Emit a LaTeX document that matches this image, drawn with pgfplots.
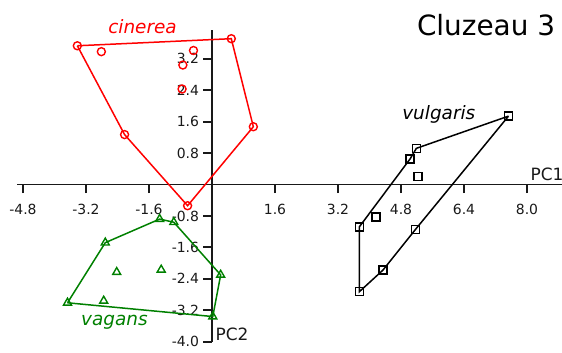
\documentclass[border=0pt]{standalone}
\usepackage{pgfplots}
\pgfplotsset{compat=1.18}
\usepackage{fontspec}
\setmainfont{DejaVu Sans}
\definecolor{cinred}{RGB}{255,0,0}
\definecolor{vaggreen}{RGB}{0,128,0}
\definecolor{axisgray}{RGB}{25,25,25}
% tick label text size
\newcommand\tl[1]{{\fontsize{14}{16}\selectfont #1}}

\begin{document}
\begin{tikzpicture}
\begin{axis}[
  at={(0,0)}, anchor=origin,
  x=39.375bp, y=39.3bp,
  axis lines=middle,
  axis line style={-, line width=1.8bp, axisgray},
  xmin=-4.95, xmax=8.89, ymin=-4.0, ymax=3.93,
  xtick={-4.8,-3.2,-1.6,1.6,3.2,4.8,6.4,8.0},
  xticklabels={\tl{-4.8},\tl{-3.2},\tl{-1.6},\tl{1.6},\tl{3.2},\tl{4.8},\tl{6.4},\tl{8.0}},
  ytick={-4.0,-3.2,-2.4,-1.6,-0.8,0.8,1.6,2.4,3.2},
  yticklabels={\tl{-4.0},\tl{-3.2},\tl{-2.4},\tl{-1.6},\tl{-0.8},\tl{0.8},\tl{1.6},\tl{2.4},\tl{3.2}},
  tick align=outside,
  major tick length=8.5bp,
  tick style={line width=1.8bp, axisgray},
  tick label style={text=axisgray},
  xticklabel style={yshift=-8bp},
  yticklabel style={xshift=-1bp},
  clip=false,
]
% convex hulls of the three groups
\addplot[cinred, line width=1.5bp, no marks] coordinates {
  (-3.42,3.53) (0.49,3.71) (1.05,1.47) (-0.62,-0.54) (-2.22,1.27) (-3.42,3.53)};
\addplot[vaggreen, line width=1.5bp, no marks] coordinates {
  (-3.67,-3.01) (-2.71,-1.48) (-1.33,-0.88) (-0.97,-0.96) (0.22,-2.30) (0.02,-3.36) (-3.67,-3.01)};
\addplot[black, line width=1.5bp, no marks] coordinates {
  (7.53,1.74) (5.19,0.92) (5.03,0.65) (3.74,-1.08) (3.74,-2.73) (4.34,-2.18) (5.17,-1.14) (7.53,1.74)};

% specimens
\addplot[only marks, mark=o, mark size=4bp, cinred, mark options={line width=1.4bp}] coordinates {
  (-3.42,3.53) (-2.81,3.38) (-0.47,3.41) (-0.74,3.04) (-0.76,2.43)
  (0.49,3.71) (1.05,1.47) (-2.22,1.27) (-0.62,-0.54)};
\addplot[only marks, mark=triangle, mark size=4.6bp, vaggreen, mark options={line width=1.4bp}] coordinates {
  (-1.33,-0.88) (-0.97,-0.96) (-2.71,-1.48) (-2.42,-2.23) (-1.29,-2.17)
  (0.22,-2.30) (-3.67,-3.01) (-2.75,-2.96) (0.02,-3.36)};
\addplot[only marks, mark=square, mark size=4bp, black, mark options={line width=1.4bp}] coordinates {
  (7.53,1.74) (5.19,0.92) (5.03,0.65) (5.23,0.20) (3.74,-1.08)
  (4.17,-0.83) (5.17,-1.14) (4.34,-2.18) (3.74,-2.73)};

% group names, axis names and title
\node[cinred, font=\fontsize{18.5}{20}\selectfont\itshape] at (axis cs:-1.765,4.01) {cinerea};
\node[black, font=\fontsize{18.5}{20}\selectfont\itshape] at (axis cs:5.76,1.78) {vulgaris};
\node[vaggreen, font=\fontsize{18.5}{20}\selectfont\itshape] at (axis cs:-2.48,-3.51) {vagans};
\node[axisgray, font=\fontsize{17}{19}\selectfont] at (axis cs:8.51,0.27) {PC1};
\node[axisgray, font=\fontsize{17}{19}\selectfont] at (axis cs:0.51,-3.80) {PC2};
\node[black, font=\fontsize{28}{30}\selectfont] at (axis cs:6.96,4.06) {Cluzeau 3};
\end{axis}
\pgfresetboundingbox
\path[use as bounding box] (-212bp,-168.5bp) rectangle (350bp,184.5bp);
\end{tikzpicture}
\end{document}
